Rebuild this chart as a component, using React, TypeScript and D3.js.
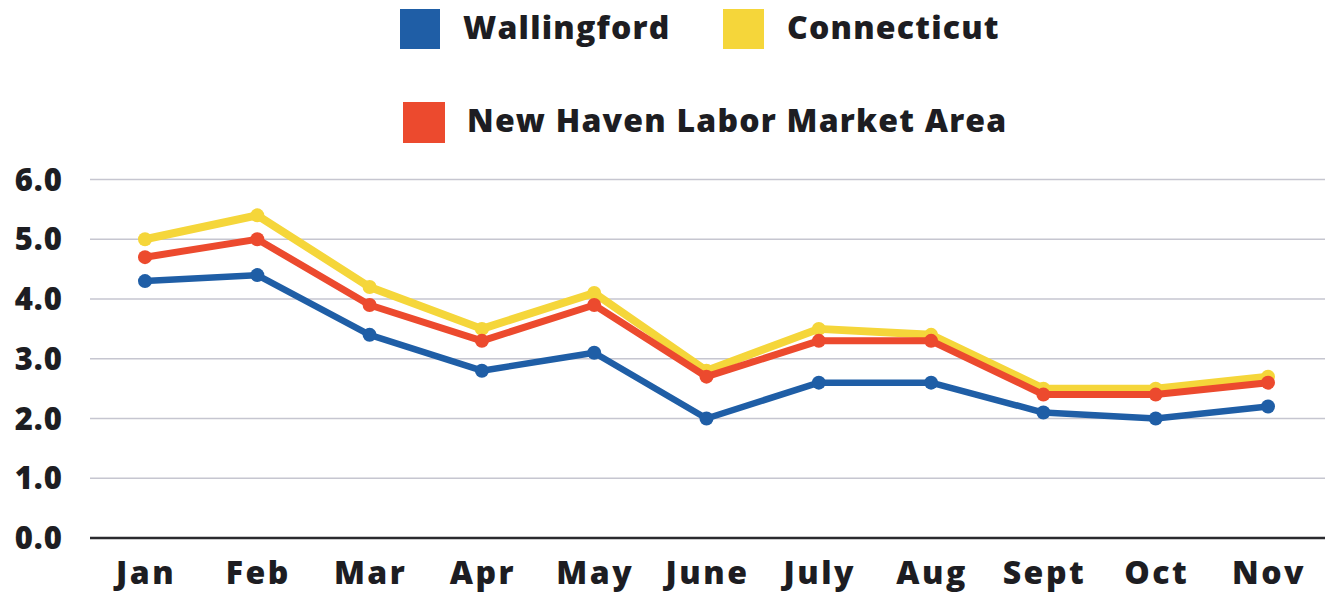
import React from "react";
import * as d3 from "d3";

const months = ["Jan", "Feb", "Mar", "Apr", "May", "June", "July", "Aug", "Sept", "Oct", "Nov"];
const wallingford = [4.3, 4.4, 3.4, 2.8, 3.1, 2.0, 2.6, 2.6, 2.1, 2.0, 2.2];
const connecticut = [5.0, 5.4, 4.2, 3.5, 4.1, 2.8, 3.5, 3.4, 2.5, 2.5, 2.7];
const newHaven = [4.7, 5.0, 3.9, 3.3, 3.9, 2.7, 3.3, 3.3, 2.4, 2.4, 2.6];
const yTicks = [0, 1, 2, 3, 4, 5, 6];

const seriesOrder = [
  { name: "Connecticut", values: connecticut, color: "#f5d63a", width: 8, r: 7 },
  { name: "New Haven Labor Market Area", values: newHaven, color: "#ec4a2e", width: 7, r: 7 },
  { name: "Wallingford", values: wallingford, color: "#1f5ea6", width: 6.5, r: 7 },
];

const FONT = "'Open Sans', 'DejaVu Sans', sans-serif";

export default function App() {
  const W = 1330, H = 593;
  const x = d3.scalePoint<string>().domain(months).range([145, 1268]);
  const y = d3.scaleLinear().domain([0, 6]).range([538, 179.5]);
  const line = d3.line<number>().x((_, i) => x(months[i])!).y((v) => y(v));

  const legend = [
    { name: "Wallingford", color: "#1f5ea6", sx: 400, sy: 9, sw: 40, sh: 40, tx: 463, ty: 38.5 },
    { name: "Connecticut", color: "#f5d63a", sx: 723, sy: 9, sw: 41, sh: 40, tx: 787, ty: 38.5 },
    { name: "New Haven Labor Market Area", color: "#ec4a2e", sx: 403, sy: 102, sw: 42, sh: 41, tx: 467, ty: 132 },
  ];

  return (
    <svg width={W} height={H} style={{ position: "absolute", left: 0, top: 0, background: "#fff" }}>
      {legend.map((l) => (
        <g key={l.name}>
          <rect x={l.sx} y={l.sy} width={l.sw} height={l.sh} fill={l.color} />
          <text
            x={l.tx}
            y={l.ty}
            fontFamily={FONT}
            fontWeight={800}
            fontSize={32}
            letterSpacing={1.2}
            fill="#1d1d22"
          >
            {l.name}
          </text>
        </g>
      ))}
      {yTicks.map((t) => (
        <g key={t}>
          <line
            x1={90}
            x2={1325}
            y1={y(t)}
            y2={y(t)}
            stroke={t === 0 ? "#2a2a2e" : "#c6c6d0"}
            strokeWidth={t === 0 ? 2.5 : 1.5}
          />
          <text
            x={63}
            y={y(t) + 11}
            textAnchor="end"
            fontFamily={FONT}
            fontWeight={800}
            fontSize={31}
            letterSpacing={1}
            fill="#1d1d22"
          >
            {t.toFixed(1)}
          </text>
        </g>
      ))}
      {months.map((m) => (
        <text
          key={m}
          x={x(m)! + 1}
          y={584}
          textAnchor="middle"
          fontFamily={FONT}
          fontWeight={800}
          fontSize={32}
          letterSpacing={2.5}
          fill="#1d1d22"
        >
          {m}
        </text>
      ))}
      {seriesOrder.map((s) => (
        <g key={s.name}>
          <path d={line(s.values)!} fill="none" stroke={s.color} strokeWidth={s.width} strokeLinejoin="round" />
          {s.values.map((v, i) => (
            <circle key={i} cx={x(months[i])!} cy={y(v)} r={s.r} fill={s.color} />
          ))}
        </g>
      ))}
    </svg>
  );
}
